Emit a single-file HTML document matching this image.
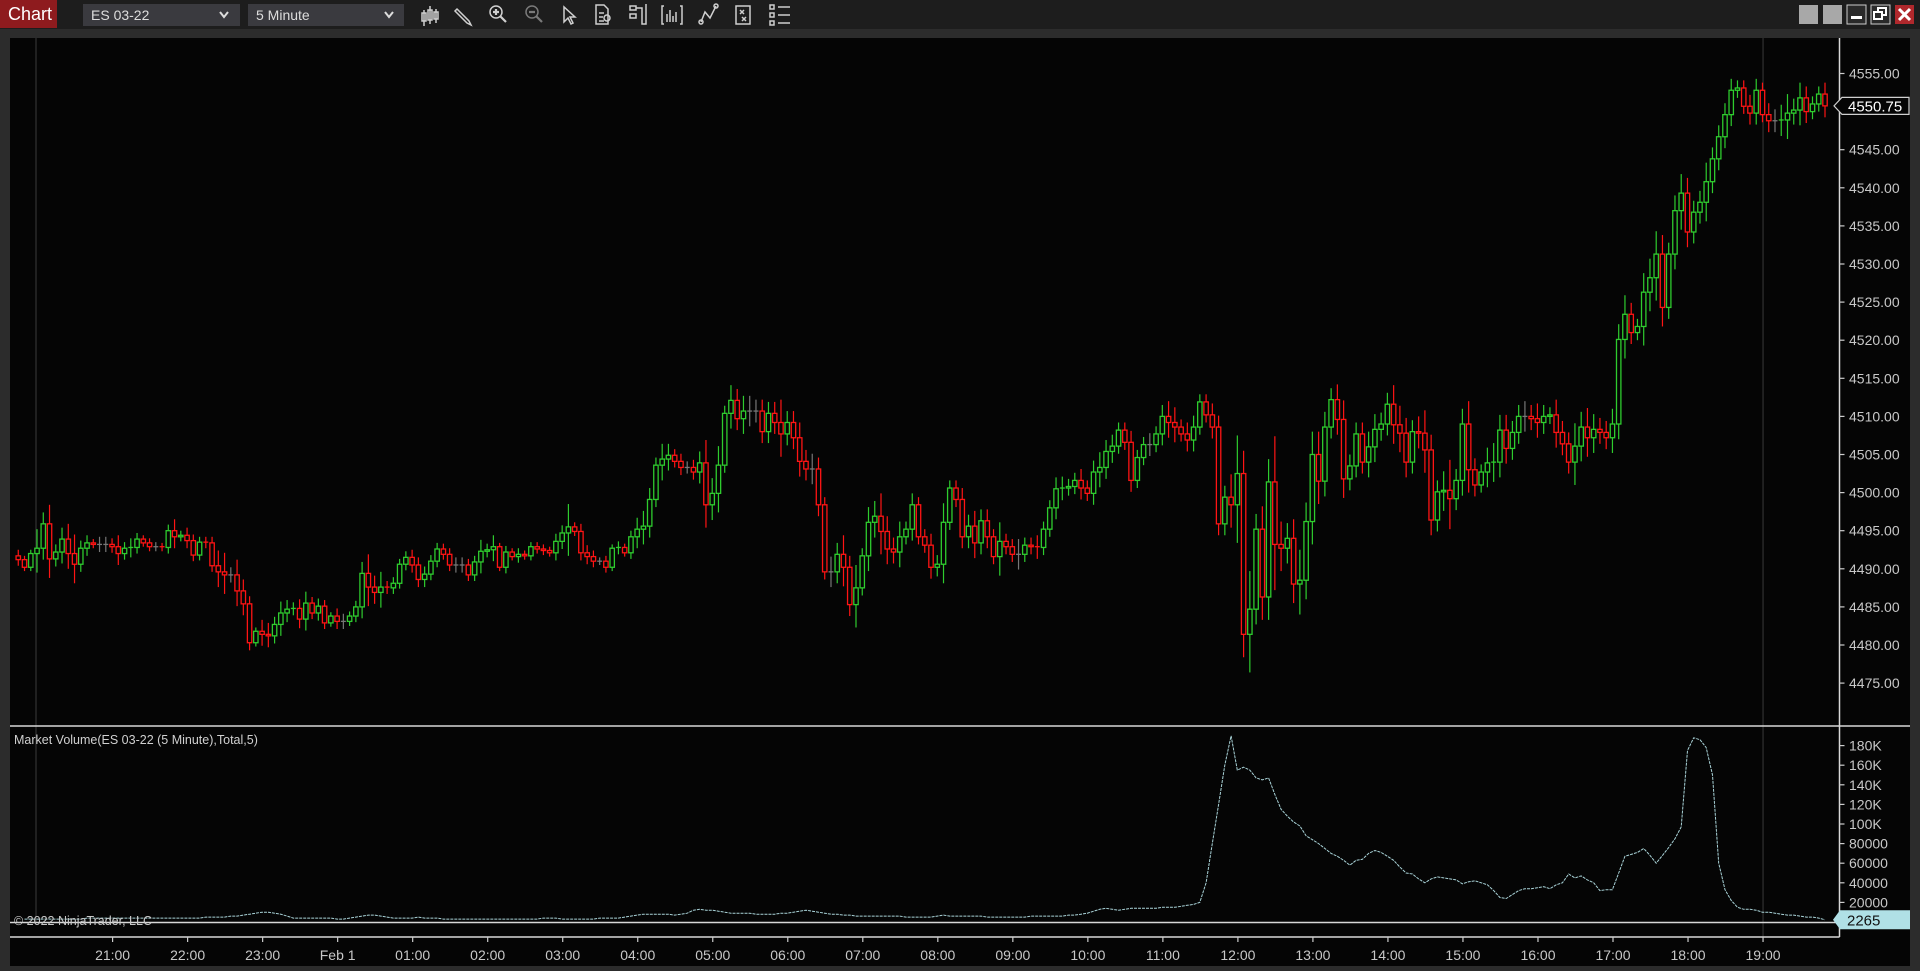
<!DOCTYPE html>
<html><head><meta charset="utf-8"><title>Chart</title>
<style>
html,body{margin:0;padding:0;background:#2b2b2b;width:1920px;height:971px;overflow:hidden;font-family:"Liberation Sans",sans-serif;}
svg{display:block}
</style></head>
<body>
<svg id="chart" width="1920" height="971" viewBox="0 0 1920 971" xmlns="http://www.w3.org/2000/svg">
  <rect x="0" y="0" width="1920" height="971" fill="#2c2c2c"/>
  <g>
    <rect x="0" y="0" width="1920" height="29" fill="#1d1d1d"/>
    <rect x="0" y="0" width="57" height="28" fill="#8e1b1e"/>
    <text x="8" y="20" fill="#ffffff" font-size="18" font-family="Liberation Sans, sans-serif">Chart</text>
    <g>
      <rect x="83" y="4" width="157" height="22" fill="#3a3a3f"/>
      <text x="91" y="20" fill="#dddddd" font-size="14">ES 03-22</text>
      <path d="M220 12 l4 5 l4 -5" stroke="#dddddd" stroke-width="2" fill="none"/>
    </g>
    <g>
      <rect x="248" y="4" width="156" height="22" fill="#3a3a3f"/>
      <text x="256" y="20" fill="#dddddd" font-size="14">5 Minute</text>
      <path d="M385 12 l4 5 l4 -5" stroke="#dddddd" stroke-width="2" fill="none"/>
    </g>
    <g stroke="#cfcfcf" stroke-width="1.5" fill="none">
      <g><path d="M424 10 v16 M430 6 v18 M436 9 v14"/><rect x="422" y="13" width="4" height="8"/><rect x="428" y="10" width="4" height="10"/><rect x="434" y="12" width="4" height="7"/></g>
      <g><path d="M457 9 l12 12 l2 4 l-4 -2 l-12 -12 z"/></g>
      <g><circle cx="496" cy="12" r="6"/><path d="M493 12 h6 M496 9 v6 M500 16 l6 6" stroke-width="2.2"/></g>
      <g stroke="#7a7a7a"><circle cx="532" cy="12" r="6"/><path d="M529 12 h6 M536 16 l6 6" stroke-width="2.2"/></g>
      <g><path d="M564 7 v15 l4 -4 l3 6 l2 -1 l-3 -6 l5 0 z"/></g>
      <g><path d="M596 5 h8 l4 4 v15 h-12 z M599 13 h5 M599 17 h4 M599 21 h5"/><circle cx="607" cy="18" r="3"/></g>
      <g><rect x="630" y="6" width="6" height="4"/><rect x="630" y="14" width="6" height="4"/><path d="M636 8 h6 v16 h4 v-20"/></g>
      <g><path d="M664 6 h-2 v18 h2 M680 6 h2 v18 h-2 M667 22 v-8 M670 22 v-12 M673 22 v-6 M676 22 v-10"/></g>
      <g><path d="M701 22 l4 -10 l5 6 l6 -12"/><circle cx="701" cy="22" r="2"/><circle cx="716" cy="6" r="2"/></g>
      <g><rect x="736" y="6" width="14" height="18"/><path d="M740 10 l4 4 M744 10 l-4 4 M742 17 l4 4 M746 17 l-4 4"/></g>
      <g><rect x="770" y="5" width="4" height="4"/><rect x="770" y="13" width="4" height="4"/><rect x="770" y="21" width="4" height="4"/><path d="M778 7 h12 M778 15 h12 M778 23 h12"/></g>
    </g>
    <g>
      <rect x="1799" y="5" width="19" height="19" fill="#a8a8a8"/>
      <rect x="1823" y="5" width="19" height="19" fill="#a8a8a8"/>
      <g><rect x="1847" y="5" width="19" height="19" fill="#2a2a2a" stroke="#cccccc"/><rect x="1851" y="16" width="11" height="3" fill="#ffffff"/></g>
      <g><rect x="1871" y="5" width="19" height="19" fill="#2a2a2a" stroke="#cccccc"/><rect x="1878" y="8" width="8" height="7" fill="none" stroke="#fff" stroke-width="2"/><rect x="1874" y="12" width="8" height="7" fill="#2a2a2a" stroke="#fff" stroke-width="2"/></g>
      <g><rect x="1895" y="5" width="19" height="19" fill="#b0282c"/><path d="M1899 9 l11 11 M1910 9 l-11 11" stroke="#fff" stroke-width="3"/></g>
    </g>
  </g>
  <rect x="10" y="38" width="1900" height="929" fill="#050505"/>
  <g id="grid"></g>
  <g id="price-layer"></g>
  <g id="volume-layer"></g>
  <g id="axes"></g>
</svg>
<script>
const closes = [4491.2,4490.2,4492,4492.7,4495.9,4491.3,4492.2,4493.9,4492,4490.6,4492.7,4493.4,4493.2,4493.2,4493.2,4492.9,4492,4492.7,4492.8,4493.9,4493.4,4492.9,4492.9,4492.8,4495,4494.2,4494.4,4493.7,4491.8,4493.5,4493.4,4490.4,4489.6,4489.2,4489.2,4487.1,4485.4,4480.3,4481.8,4481.4,4481.2,4482.7,4484.2,4484.7,4484.8,4483.4,4485.5,4484.2,4485.1,4482.9,4483.8,4483.1,4483.1,4483.8,4485,4489.4,4487.6,4486.9,4487.6,4487.5,4488.1,4490.6,4491.5,4490.5,4488.6,4489.3,4491,4492.6,4491.9,4490.5,4490.5,4490.5,4489.2,4490.9,4492.3,
4492.5,4492.9,4490.2,4492.2,4491.6,4491.9,4491.7,4492.9,4492.6,4492.4,4492.1,4493.6,4494.7,4495.5,4494.9,4492.1,4491.6,4491,4491,4490.2,4492.7,4492.8,4492.1,4494.2,4495.2,4495.6,4499.1,4503.6,4504.4,4504.9,4504.1,4503.3,4503.3,4502.7,4503.9,4498.4,4499.9,4503.6,4510.4,4512.1,4509.7,4510.7,4510.7,4510.7,4508,4510.4,4509.2,4507.7,4509.2,4507.2,4504.1,4503.1,4503.1,4498.4,4489.6,4489.6,4491.9,4490.2,4485.3,4487.5,4491.7,4496.1,4496.9,4494.9,4492.6,4492.2,4494.2,4495.2,4498.4,4494.2,4493.1,4490.2,4490.6,4496.1,4500.6,4499.1,
4494.2,4495.6,4493.4,4496.3,4494.2,4491.6,4493.6,4492.9,4491.9,4491.9,4493.1,4492.9,4492.8,4495.2,4498,4500.5,4500.6,4500.8,4501.6,4500.6,4499.9,4502.7,4503.3,4505.4,4506.1,4508.2,4506.6,4501.6,4504.6,4506.3,4506.3,4507.7,4510,4509.2,4508.6,4507.7,4506.9,4508.6,4511.9,4510.2,4508.6,4495.9,4499.4,4498.4,4502.5,4481.4,4484.7,4495.2,4486.3,4501.4,4493.2,4492.7,4494,4488,4488.5,4496.2,4505,4501.5,4508.6,4512.2,4509.6,4501.8,4503.5,4507.7,4504,4506,4508.3,4509,4511.6,4508.9,4507.8,4504,4508,4507.8,4505.6,4496.4,4500.1,
4500.3,4499.2,4501.6,4509,4503,4501,4502.7,4503.9,4504,4508.2,4505.8,4507.9,4510,4510,4509.7,4509.2,4510,4510.2,4507.9,4506.4,4504,4506.1,4508.6,4507.2,4508.3,4507.9,4507.2,4509,4520.1,4523.4,4521,4521.8,4526.3,4528.2,4531.3,4524.3,4531.3,4537,4539.3,4534.2,4536.8,4538.1,4540.8,4543.8,4546.7,4549.6,4552.8,4553.1,4550.7,4549.8,4552.8,4549.6,4548.8,4548.8,4548.9,4549.8,4550.2,4551.8,4550,4551,4552.3,4550.75];
const wicks = [0.8,0.5,0.5,2.5,1.5,2.5,1,1.5,2,2.5,1,1,0.5,1,1,0.8,1.5,0.8,1.2,0.8,0.5,0.6,0.6,0.5,0.8,1.5,0.6,1,0.8,0.7,0.7,0.8,2,2.5,1,2,1.5,1,0.5,1.5,1.5,1,1.5,1.2,0.8,1.2,1.5,0.8,1,0.8,0.5,1,1,0.6,0.8,1.5,2.5,1.5,2,0.8,0.8,0.7,0.8,1,1,1,0.8,0.8,0.7,0.8,1,1,0.8,0.8,1.5,
0.8,1.5,0.5,0.8,0.5,0.8,0.5,0.6,0.6,0.6,0.5,1,1,3,0.6,1,1,0.8,0.5,0.7,0.5,0.8,0.5,0.8,1.5,2,1.5,1,2,1.5,0.8,1,0.8,1,1.5,3,2,2.5,1,2,1.5,2,2,1.5,1.5,1.5,1.5,3,1.5,1.5,2,1.5,2,1.5,1,2,1.5,2.5,1.5,3,1,2,2,3,2,1.5,2,1,1.5,1,1,1.5,1.2,2.5,1,1,1.5,1.5,2,1.5,
1.5,1,2.5,1,1,2,1,1,1.5,1,1,1.5,1.5,1,1,1.5,1,1.5,2,1.5,1.5,1,1,1.5,1,1,1.5,1,1.5,2,2,1,1.5,1.5,1,1,1.5,1.5,1.5,3,5,3,5,2,3,3,6,3,2,2.5,4,2.5,3,3,2,1.5,2,2.5,1.5,1.5,1.5,2,2,1.5,1.5,2.5,2.5,2,1.5,2,3,2,1.5,2.5,4,1.5,
2,3,1.5,1,2,2.5,2,2,1.5,1.5,2,1.5,2,1.5,1,2,1.5,1.5,3,2,2.5,2,1.5,1.5,2,2,2.5,1.5,1,2.5,2.5,3,2.5,1.5,2,2.5,2,1.5,1.5,2.5,1.5,1.5,1.5,1.5,1,1,1.5,1.5,1,1.5,1.5,2,2.5,1.5,2,1.5,1,1,1.5,1,1,0.8];
const volumes = [3,3,3,3,3,3,3,3,3,3,4,4,4,4,
4,4,4,4,4,4,4,4,4,4,4,4,
4,4,4,5,5,5,5,6,6,7,8,9,
10,10,9,8,6,4,4,4,4,4,4,4,
3,3,4,5,6,7,7,6,5,4,4,4,
4,5,4,4,4,3,3,3,3,3,3,3,
3,3,3,3,3,3,3,3,3,4,4,4,
3,3,3,3,3,3,4,4,4,4,5,6,
7,8,8,8,8,8,7,8,9,12,13,12,
12,11,10,9,9,9,9,8,8,8,8,9,
9,10,11,12,11,10,9,8,8,7,7,6,
6,6,6,6,6,6,6,5,5,5,5,5,
6,7,6,6,6,6,6,6,5,5,5,5,
5,5,5,6,6,6,6,6,6,7,7,8,
9,11,13,14,13,12,13,14,14,14,14,14,
15,15,15,16,17,18,20,40,80,120,160,190,
155,158,155,147,145,147,130,115,108,102,98,88,
84,80,75,70,67,63,58,63,64,70,73,71,
67,63,56,50,49,44,40,44,46,45,44,43,
39,41,42,40,38,32,25,24,28,32,34,34,
35,36,34,38,40,49,45,47,43,40,32,33,
33,50,67,69,71,75,68,60,68,76,85,97,
175,188,186,178,150,60,33,22,15,13,13,12,
10,10,9,8,7,7,6,5,5,4,2.265];
const priceTicks = [4475,4480,4485,4490,4495,4500,4505,4510,4515,4520,4525,4530,4535,4540,4545,4555];
const volTicks = [20,40,60,80,100,120,140,160,180];
const volTickLabels = ["20000","40000","60000","80000","100K","120K","140K","160K","180K"];
const timeLabels = ["21:00","22:00","23:00","Feb 1","01:00","02:00","03:00","04:00","05:00","06:00","07:00","08:00","09:00","10:00","11:00","12:00","13:00","14:00","15:00","16:00","17:00","18:00","19:00"];
const lastPrice = 4550.75;
const lastVolume = 2265;

const NS = "http://www.w3.org/2000/svg";
const PX_PER_HOUR = 75.02, BAR_W = PX_PER_HOUR / 12;
const X_LAST = 1825;
const AXIS_X = 1839.5;
function yPrice(p){ return 73.5 + (4555 - p) * 7.62; }
function yVol(k){ return 922 - k * 0.98; }
function xBar(i, n){ return X_LAST - (n - 1 - i) * BAR_W; }
function xTime(h){ return 112.6 + h * PX_PER_HOUR; }
function mk(tag, attrs, parent){ const e = document.createElementNS(NS, tag); for (const k in attrs) e.setAttribute(k, attrs[k]); parent.appendChild(e); return e; }

const grid = document.getElementById('grid');
const axes = document.getElementById('axes');
const pl = document.getElementById('price-layer');
const vl = document.getElementById('volume-layer');

let vline1 = mk('line', {x1:36, y1:38, x2:36, y2:922, stroke:'#3a3a3a', 'stroke-width':1}, grid);


let vline2 = mk('line', {x1:xTime(22), y1:38, x2:xTime(22), y2:937, stroke:'#3a3a3a', 'stroke-width':1}, grid);



const n = closes.length;
for (let i = 0; i < n; i++) {
  const c = closes[i];
  const o = i > 0 ? closes[i-1] : c + 0.5;
  const w = wicks[i] !== undefined ? wicks[i] : 1;
  const hi = Math.max(o, c) + w, lo = Math.min(o, c) - w;
  const col = c > o ? '#2ecc2e' : (c < o ? '#ff1414' : '#777777');
  const x = xBar(i, n);
  const g = mk('g', {}, pl);
  
  
  mk('line', {x1:x, x2:x, y1:yPrice(hi), y2:yPrice(lo), stroke:col, 'stroke-width':1.2}, g);
  const yt = yPrice(Math.max(o, c)), yb = yPrice(Math.min(o, c));
  if (yb - yt < 0.8) {
    mk('line', {x1:x-2.5, x2:x+2.5, y1:yt, y2:yt, stroke:col, 'stroke-width':1.3}, g);
  } else {
    mk('rect', {x:x-2.2, y:yt, width:4.4, height:yb-yt, fill:'#050505', stroke:col, 'stroke-width':1.3}, g);
  }
}

const nv = volumes.length;
let pts = [];
for (let i = 0; i < nv; i++) pts.push(xBar(i, nv).toFixed(1) + ',' + yVol(volumes[i]).toFixed(1));
const vline = mk('polyline', {points: pts.join(' '), fill:'none', stroke:'#a9d3d8', 'stroke-width':1, 'stroke-dasharray':'3,1'}, vl);



let l1 = mk('line', {x1:10, y1:726, x2:1910, y2:726, stroke:'#d8d8d8', 'stroke-width':1.5}, axes);


let l2 = mk('line', {x1:10, y1:922.5, x2:AXIS_X, y2:922.5, stroke:'#d8d8d8', 'stroke-width':1.5}, axes);


let l3 = mk('line', {x1:10, y1:937, x2:AXIS_X, y2:937, stroke:'#d8d8d8', 'stroke-width':1.5}, axes);


let l4 = mk('line', {x1:AXIS_X, y1:38, x2:AXIS_X, y2:937, stroke:'#d8d8d8', 'stroke-width':1.5}, axes);



priceTicks.forEach(p => {
  const y = yPrice(p);
  mk('line', {x1:AXIS_X, x2:AXIS_X+5, y1:y, y2:y, stroke:'#cccccc', 'stroke-width':1.2}, axes);
  const t = mk('text', {x:1849, y:y+5, fill:'#c8c8c8', 'font-size':14}, axes);
  t.textContent = p.toFixed(2);
  
  
});
volTicks.forEach((v, i) => {
  const y = yVol(v);
  mk('line', {x1:AXIS_X, x2:AXIS_X+5, y1:y, y2:y, stroke:'#cccccc', 'stroke-width':1.2}, axes);
  const t = mk('text', {x:1849, y:y+5, fill:'#c8c8c8', 'font-size':14}, axes);
  t.textContent = volTickLabels[i];
  
  
});
timeLabels.forEach((lab, h) => {
  const x = xTime(h);
  mk('line', {x1:x, x2:x, y1:937, y2:942, stroke:'#cccccc', 'stroke-width':1.2}, axes);
  const t = mk('text', {x:x, y:960, fill:'#c8c8c8', 'font-size':14, 'text-anchor':'middle'}, axes);
  t.textContent = lab;
  
  
});

const yp = yPrice(lastPrice);
const pf = mk('g', {}, axes);


mk('path', {d:`M1834 ${yp} L1842 ${yp-8.5} L1909 ${yp-8.5} L1909 ${yp+8.5} L1842 ${yp+8.5} Z`, fill:'#050505', stroke:'#d0d0d0', 'stroke-width':1.2}, pf);
const pt = mk('text', {x:1848, y:yp+5.5, fill:'#ffffff', 'font-size':15}, pf);
pt.textContent = lastPrice.toFixed(2);

const yv = yVol(lastVolume / 1000);
const vf = mk('g', {}, axes);


mk('path', {d:`M1833 ${yv} L1840 ${yv-9.5} L1910 ${yv-9.5} L1910 ${yv+9.5} L1840 ${yv+9.5} Z`, fill:'#b0e0e6'}, vf);
const vt = mk('text', {x:1847, y:yv+5.5, fill:'#111111', 'font-size':15}, vf);
vt.textContent = String(lastVolume);

const title = mk('text', {x:14, y:744, fill:'#d0d0d0', 'font-size':12.5}, axes);
title.textContent = 'Market Volume(ES 03-22 (5 Minute),Total,5)';


const copy = mk('text', {x:14, y:925, fill:'#c8c8c8', 'font-size':12.5}, axes);
copy.textContent = '\u00a9 2022 NinjaTrader, LLC';



mk('rect', {x:0, y:966, width:1920, height:5, fill:'#2c2c2c'}, axes);
mk('rect', {x:1910, y:29, width:10, height:942, fill:'#2c2c2c'}, axes);
</script>
</body></html>
